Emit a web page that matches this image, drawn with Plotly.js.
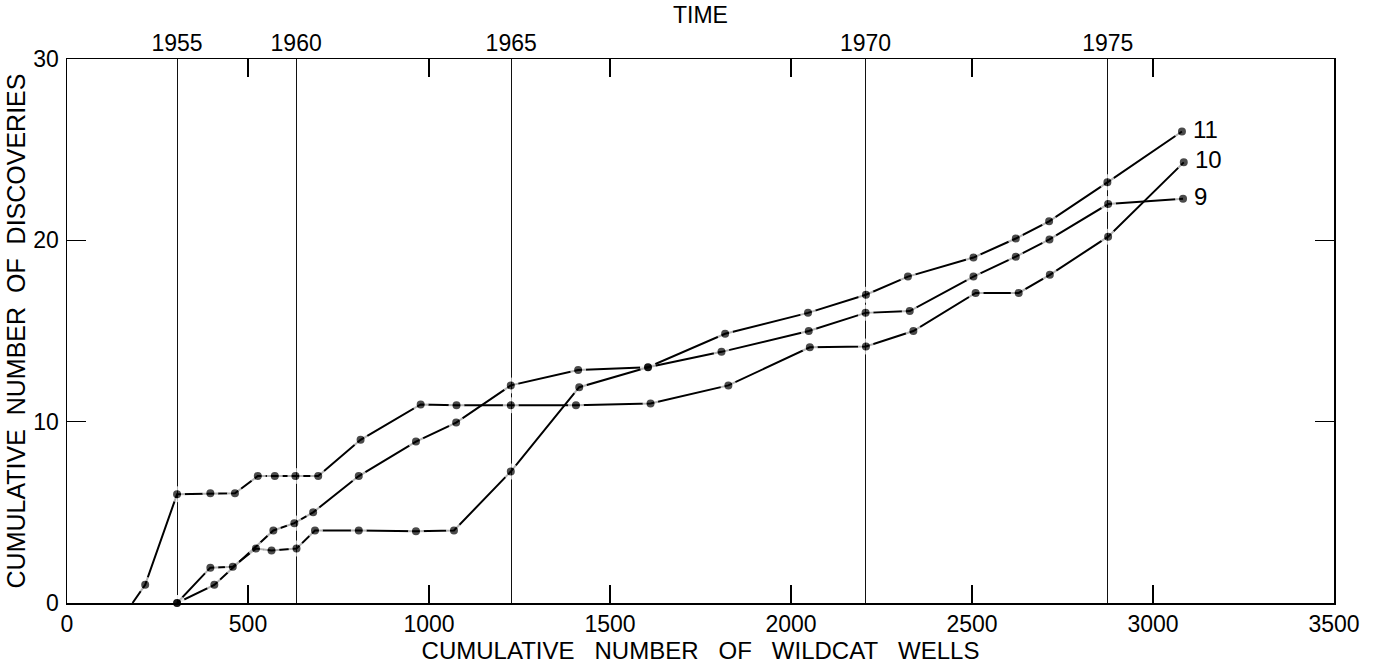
<!DOCTYPE html>
<html>
<head>
<meta charset="utf-8">
<script src="https://cdn.plot.ly/plotly-3.0.1.min.js"></script>
<style>html,body{margin:0;padding:0;background:#fff;}#chart{width:1373px;height:667px;}</style>
</head>
<body>
<div id="chart"></div>
<script>
// Series 11
const wells11 = [304, 407, 570, 628, 680, 806, 964, 1075, 1226, 1412, 1605, 1818, 2047, 2207, 2323, 2504, 2621, 2713, 2874, 3080];
const disc11  = [0, 1, 4, 4.4, 5, 7, 8.9, 9.95, 12, 12.85, 13, 14.85, 16, 17, 18, 19.05, 20.1, 21.05, 23.2, 26];
// Series 10
const wells10 = [181, 216, 304, 396, 464, 527, 574, 631, 694, 811, 977, 1076, 1226, 1406, 1612, 1827, 2052, 2207, 2338, 2510, 2629, 2715, 2876, 3085];
const disc10  = [0, 1, 6, 6.05, 6.05, 7, 7, 7, 7, 9, 10.95, 10.9, 10.9, 10.9, 11, 12, 14.1, 14.15, 15, 17.1, 17.1, 18.1, 20.2, 24.3];
// Series 9
const wells9 = [304, 396, 458, 522, 565, 634, 685, 806, 964, 1069, 1226, 1415, 1605, 1808, 2049, 2206, 2328, 2504, 2621, 2714, 2876, 3083];
const disc9  = [0, 1.95, 2, 3, 2.9, 3, 4, 4, 3.95, 4, 7.25, 11.9, 13, 13.85, 15, 16, 16.1, 18, 19.1, 20.05, 22, 22.3];

const seriesNames = ['11', '10', '9'];
const yearWells = [304, 633, 1227, 2206, 2875];
const yearLabels = ['1955', '1960', '1965', '1970', '1975'];
const xTicks = [0, 500, 1000, 1500, 2000, 2500, 3000, 3500];
const yTicks = [0, 10, 20, 30];

const FONT = 'Liberation Sans, Arial, Helvetica, sans-serif';
const INK = '#000';

function mk(xs, ys, name, skipFirst) {
  return {
    x: xs, y: ys, name: name, type: 'scatter', mode: 'lines+markers',
    line: {color: INK, width: 2},
    marker: {
      color: INK,
      size: xs.map((_, i) => (skipFirst && i === 0) ? 0 : 12),
      line: {color: '#fff', width: xs.map((_, i) => (skipFirst && i === 0) ? 0 : 4)}
    },
    cliponaxis: false,
    showlegend: false, hoverinfo: 'x+y'
  };
}

const data = [
  mk(wells11, disc11, seriesNames[0], false),
  mk(wells10, disc10, seriesNames[1], true),
  mk(wells9, disc9, seriesNames[2], false),
  // invisible trace to activate the top (time) axis
  {x: yearWells, y: yearWells.map(() => 0), xaxis: 'x2', yaxis: 'y', type: 'scatter', mode: 'markers',
   marker: {opacity: 0}, showlegend: false, hoverinfo: 'skip'}
];

const ends = [[wells11, disc11], [wells10, disc10], [wells9, disc9]];
const annotations = ends.map((e, i) => ({
  x: e[0][e[0].length - 1], y: e[1][e[1].length - 1], xref: 'x', yref: 'y',
  text: seriesNames[i], showarrow: false, xanchor: 'left', yanchor: 'middle',
  xshift: 9, yshift: i === 1 ? 3 : 2,
  font: {family: FONT, size: 24, color: INK}
}));

const layout = {
  width: 1373, height: 667,
  margin: {l: 67, r: 39, t: 59, b: 64},
  paper_bgcolor: '#fff', plot_bgcolor: '#fff',
  font: {family: FONT, size: 23, color: INK},
  xaxis: {
    range: [0, 3500], tickvals: xTicks, ticktext: xTicks.map(String),
    ticks: 'inside', ticklen: 18, tickwidth: 1.3, tickcolor: INK,
    showline: true, linecolor: INK, linewidth: 1.5, mirror: 'ticks',
    showgrid: false, zeroline: false, automargin: false,
    ticklabelstandoff: 0,
    tickfont: {family: FONT, size: 23, color: INK},
    title: {text: 'CUMULATIVE\u00a0\u00a0 NUMBER\u00a0\u00a0 OF\u00a0\u00a0 WILDCAT\u00a0\u00a0 WELLS', standoff: 0,
            font: {family: FONT, size: 24, color: INK}}
  },
  xaxis2: {
    overlaying: 'x', side: 'top', anchor: 'y',
    range: [0, 3500], tickvals: yearWells, ticktext: yearLabels,
    ticks: '', showline: false, zeroline: false,
    showgrid: true, gridcolor: '#111', gridwidth: 1,
    automargin: false, ticklabelstandoff: 2,
    tickfont: {family: FONT, size: 23, color: INK},
    title: {text: 'TIME', standoff: 0, font: {family: FONT, size: 23, color: INK}}
  },
  yaxis: {
    range: [0, 30], tickvals: yTicks, ticktext: yTicks.map(String),
    ticks: 'inside', ticklen: 19, tickwidth: 1.3, tickcolor: INK,
    showline: true, linecolor: INK, linewidth: 1.5, mirror: 'ticks',
    showgrid: false, zeroline: false, automargin: false,
    ticklabelstandoff: 2,
    tickfont: {family: FONT, size: 23, color: INK},
    title: {text: 'CUMULATIVE\u00a0 NUMBER\u00a0 OF\u00a0 DISCOVERIES', standoff: 0,
            font: {family: FONT, size: 25, color: INK}}
  },
  annotations: annotations
};

Plotly.newPlot('chart', data, layout, {displayModeBar: false, staticPlot: true});
</script>
</body>
</html>
